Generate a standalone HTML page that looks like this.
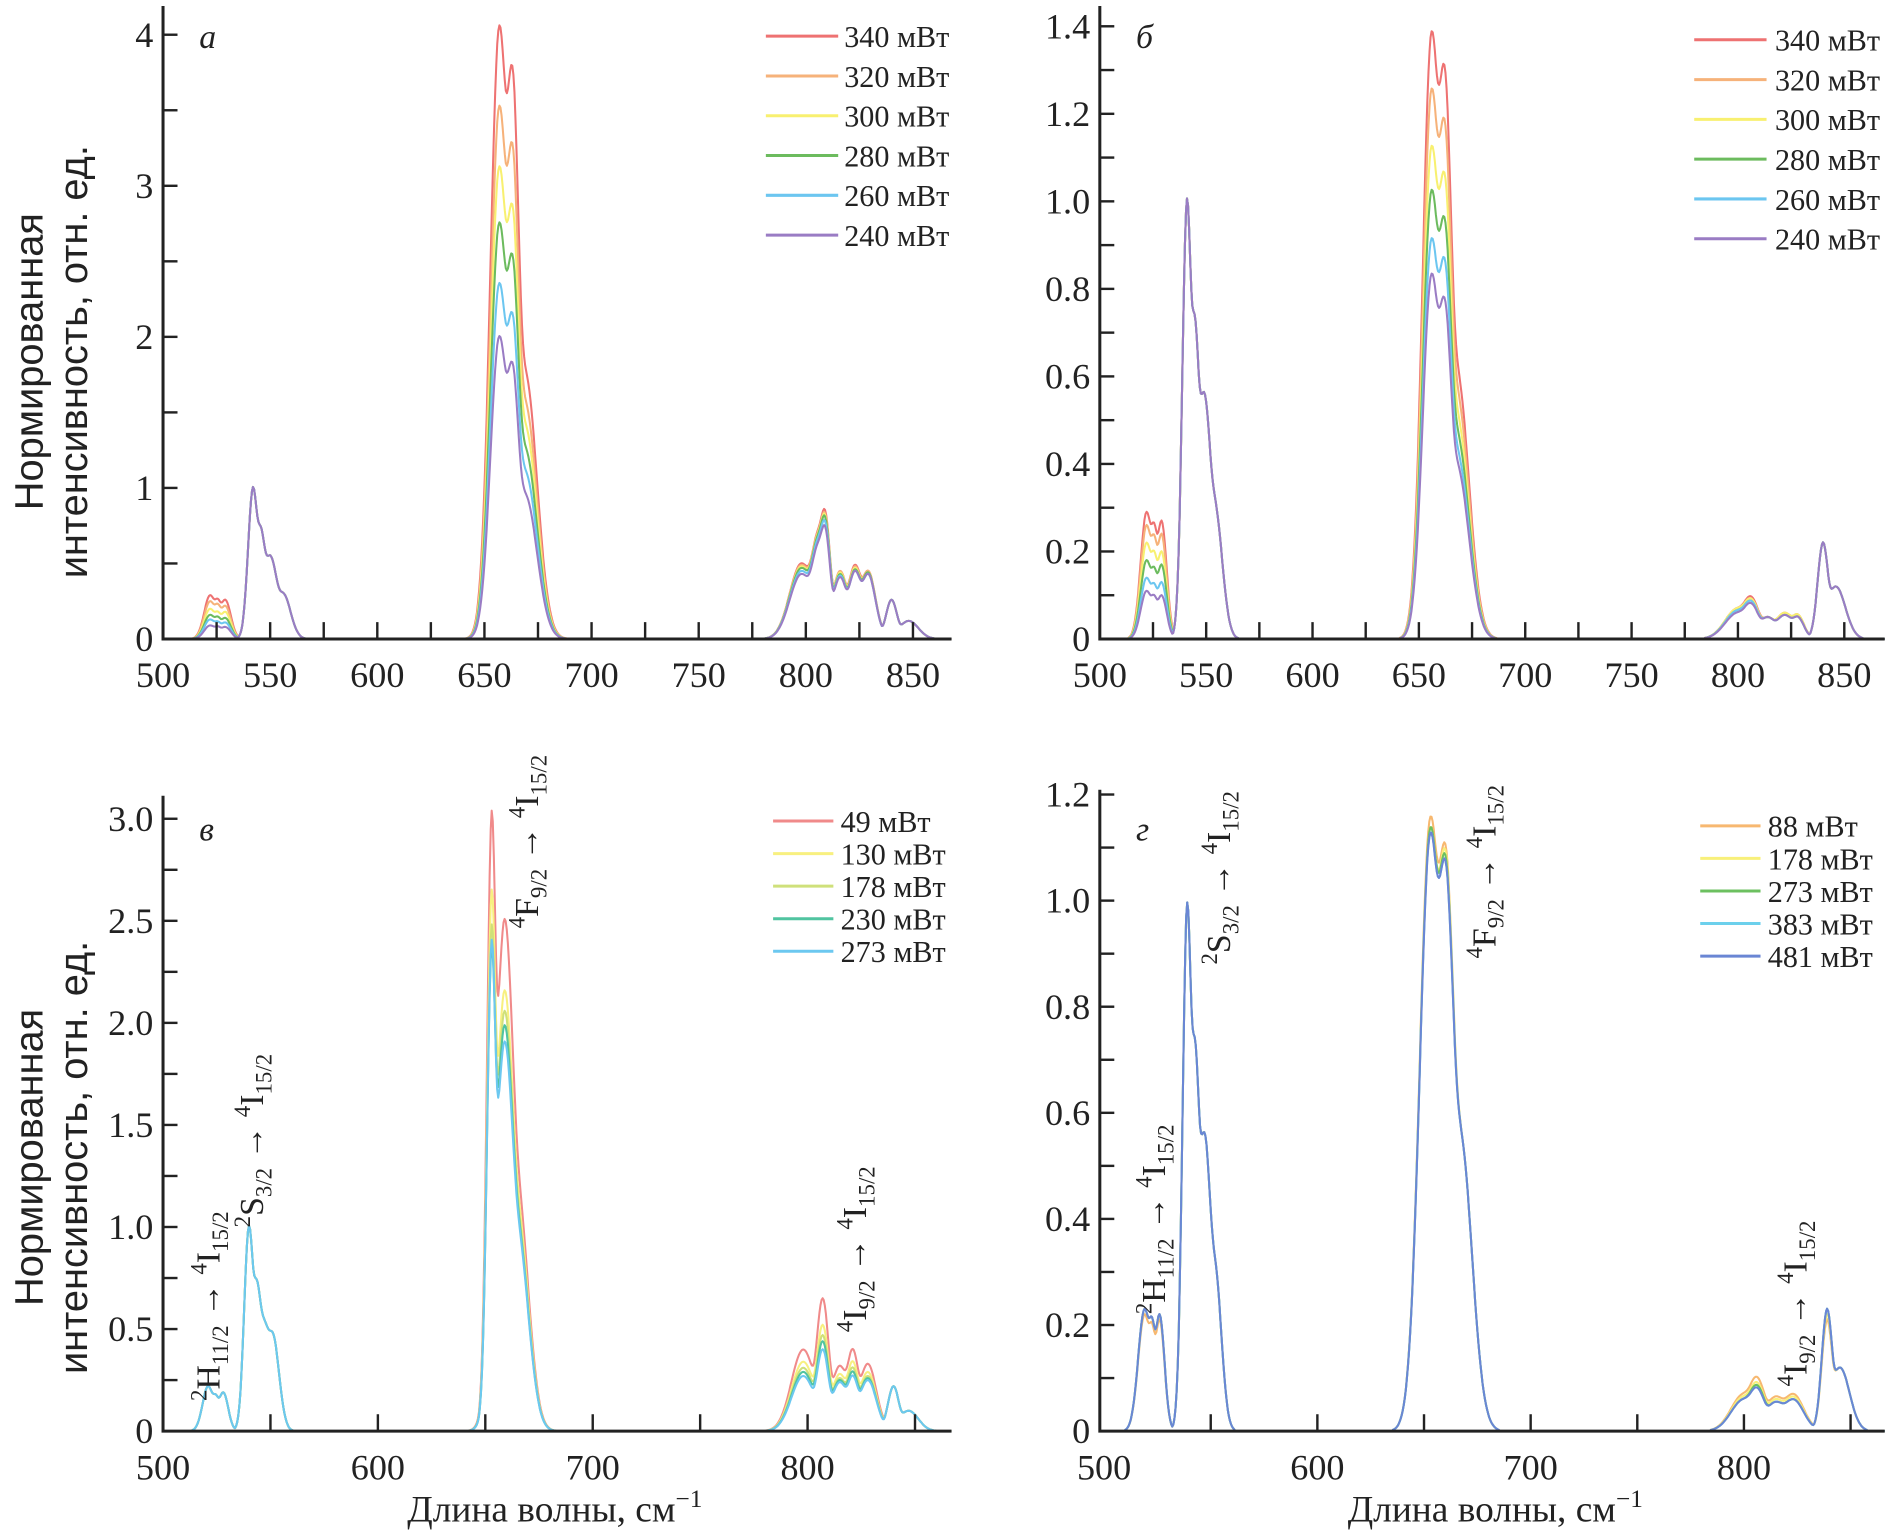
<!DOCTYPE html>
<html><head><meta charset="utf-8"><style>
html,body{margin:0;padding:0;background:#fff;}
svg{display:block;font-family:"Liberation Serif",serif;}
</style></head><body>
<svg id="fig" width="1891" height="1536" viewBox="0 0 1568 1274" xmlns="http://www.w3.org/2000/svg"></svg>
<script>
// ---------- DATA ----------
const centersA = [522,529,542,550,556,657,663,669,798,806,809,816,823,829,840,848,525.5,545.5];
const sigmasA  = [2.8,2.6,2.3,3.5,3.5,4.2,3.5,5.5,5.5,4.0,2.5,3.5,3.5,3.5,2.6,4.5,2.0,2.5];
const labelsA = ["340 мВт","320 мВт","300 мВт","280 мВт","260 мВт","240 мВт"];
const colorsA = ["#ee7272","#f6b27a","#f8f070","#6cbb5e","#6cc6f0","#9a7cc4"];
const ampsA = [
 [0.29,0.26,1.0,0.55,0.3,4.05,3.70,1.75,0.50,0.70,0.78,0.45,0.49,0.45,0.26,0.12,0.25,0.72],
 [0.25,0.22,1.0,0.55,0.3,3.52,3.20,1.55,0.49,0.69,0.76,0.45,0.48,0.45,0.26,0.12,0.22,0.72],
 [0.20,0.18,1.0,0.55,0.3,3.12,2.80,1.40,0.48,0.68,0.75,0.44,0.47,0.44,0.26,0.12,0.17,0.72],
 [0.16,0.14,1.0,0.55,0.3,2.75,2.48,1.25,0.47,0.67,0.74,0.43,0.46,0.44,0.26,0.12,0.14,0.72],
 [0.13,0.11,1.0,0.55,0.3,2.35,2.10,1.10,0.45,0.65,0.71,0.42,0.45,0.43,0.26,0.12,0.11,0.72],
 [0.09,0.08,1.0,0.55,0.3,2.00,1.78,0.95,0.43,0.62,0.68,0.41,0.45,0.43,0.26,0.12,0.08,0.72]
];
const centersB = [522,529,541,549,554,656,662,668,800,806,814,822,828,840,846,525.5,544.5];
const sigmasB  = [2.8,2.4,2.2,3.5,3.5,4.2,3.8,5.5,6.0,4.0,4.0,4.5,3.0,2.5,4.5,2.0,2.5];
const labelsB = labelsA;
const colorsB = colorsA;
const ampsB = [
 [0.29,0.27,1.0,0.56,0.3,1.38,1.28,0.60,0.07,0.095,0.05,0.06,0.055,0.22,0.12,0.25,0.72],
 [0.26,0.24,1.0,0.56,0.3,1.25,1.16,0.55,0.07,0.09,0.05,0.06,0.055,0.22,0.12,0.225,0.72],
 [0.22,0.20,1.0,0.56,0.3,1.12,1.04,0.50,0.07,0.09,0.05,0.06,0.055,0.22,0.12,0.19,0.72],
 [0.18,0.17,1.0,0.56,0.3,1.02,0.94,0.46,0.065,0.085,0.05,0.055,0.05,0.22,0.12,0.155,0.72],
 [0.14,0.13,1.0,0.56,0.3,0.91,0.85,0.42,0.065,0.085,0.05,0.055,0.05,0.22,0.12,0.12,0.72],
 [0.11,0.10,1.0,0.56,0.3,0.83,0.76,0.39,0.06,0.08,0.05,0.055,0.05,0.22,0.12,0.095,0.72]
];
const centersC = [521,528,540,547,551,653,659,665,798,807,815,821,828,840,847,524.5,543.5];
const sigmasC  = [2.6,2.3,2.2,3.0,3.0,2.2,4.5,5.0,5.5,3.0,4.0,3.0,4.0,2.6,4.5,2.0,2.5];
const labelsC = ["49 мВт","130 мВт","178 мВт","230 мВт","273 мВт"];
const colorsC = ["#f08a8a","#f8f080","#cfe07a","#50c4a0","#6cc8f0"];
const ampsC = [
 [0.22,0.19,1.0,0.52,0.47,3.00,2.50,1.15,0.40,0.65,0.32,0.40,0.33,0.22,0.10,0.17,0.72],
 [0.22,0.19,1.0,0.52,0.47,2.62,2.15,1.05,0.34,0.52,0.28,0.34,0.29,0.22,0.10,0.17,0.72],
 [0.22,0.19,1.0,0.52,0.47,2.45,2.05,1.00,0.31,0.47,0.26,0.31,0.27,0.22,0.10,0.17,0.72],
 [0.22,0.19,1.0,0.52,0.47,2.35,1.98,0.97,0.29,0.44,0.25,0.29,0.26,0.22,0.10,0.17,0.72],
 [0.22,0.19,1.0,0.52,0.47,2.38,1.90,0.95,0.27,0.40,0.24,0.27,0.25,0.22,0.10,0.17,0.72]
];
const centersD = [519,526,539,547,552,653,660,667,800,806,815,823,839,845,522.5,542.5];
const sigmasD  = [3.0,2.3,2.2,3.5,3.0,5.0,4.5,5.5,6.0,4.0,5.0,5.0,2.5,4.5,2.0,2.5];
const labelsD = ["88 мВт","178 мВт","273 мВт","383 мВт","481 мВт"];
const colorsD = ["#f7b870","#f8f07a","#6cc060","#6cd0ec","#6a86d4"];
const ampsD = [
 [0.22,0.21,0.99,0.56,0.3,1.15,1.08,0.55,0.07,0.10,0.065,0.07,0.21,0.12,0.19,0.72],
 [0.23,0.22,0.99,0.56,0.3,1.13,1.07,0.55,0.065,0.09,0.06,0.065,0.22,0.12,0.2,0.72],
 [0.23,0.22,0.99,0.56,0.3,1.13,1.06,0.55,0.06,0.085,0.055,0.06,0.23,0.12,0.2,0.72],
 [0.23,0.22,0.99,0.56,0.3,1.12,1.05,0.55,0.06,0.08,0.055,0.06,0.23,0.12,0.2,0.72],
 [0.23,0.22,0.99,0.56,0.3,1.12,1.05,0.55,0.06,0.08,0.055,0.06,0.23,0.12,0.2,0.72]
];
const ticksXTop = [500,550,600,650,700,750,800,850];
const ticksXBot = [500,600,700,800];
const ticksYA = ["0","1","2","3","4"];
const ticksYB = ["0","0.2","0.4","0.6","0.8","1.0","1.2","1.4"];
const ticksYC = ["0","0.5","1.0","1.5","2.0","2.5","3.0"];
const ticksYD = ["0","0.2","0.4","0.6","0.8","1.0","1.2"];

// ---------- DRAW ----------
const NS="http://www.w3.org/2000/svg";
const svg=document.getElementById('fig');
function mk(tag,attrs,parent){const e=document.createElementNS(NS,tag);for(const k in attrs)e.setAttribute(k,attrs[k]);(parent||svg).appendChild(e);return e;}

const panels=[
 {id:'a',letter:'а',x0:135,x1:789,y0:530,yTop:5,xmin:500,xmax:868,ymax:4.0,yPix:125.3,xt:ticksXTop,xMinor:25,yt:ticksYA,yMinor:0.5,cen:centersA,sig:sigmasA,amps:ampsA,labels:labelsA,colors:colorsA,leg:{x:635,w:60,tx:700,y:30,dy:33}},
 {id:'b',letter:'б',x0:912,x1:1563,y0:530,yTop:5,xmin:500,xmax:869,ymax:1.4,yPix:363,xt:ticksXTop,xMinor:25,yt:ticksYB,yMinor:0.1,cen:centersB,sig:sigmasB,amps:ampsB,labels:labelsB,colors:colorsB,leg:{x:1405,w:60,tx:1472,y:33,dy:33}},
 {id:'c',letter:'в',x0:135,x1:789,y0:1187,yTop:660,xmin:500,xmax:867,ymax:3.0,yPix:169.3,xt:ticksXBot,xMinor:50,yt:ticksYC,yMinor:0.25,cen:centersC,sig:sigmasC,amps:ampsC,labels:labelsC,colors:colorsC,leg:{x:641,w:50,tx:697,y:681,dy:27}},
 {id:'d',letter:'г',x0:912,x1:1563,y0:1187,yTop:655,xmin:498,xmax:866,ymax:1.2,yPix:440,xt:ticksXBot,xMinor:50,yt:ticksYD,yMinor:0.1,cen:centersD,sig:sigmasD,amps:ampsD,labels:labelsD,colors:colorsD,leg:{x:1410,w:50,tx:1466,y:685,dy:27}}
];
const P=3;
panels.forEach(p=>{
 const g=mk('g',{});
 
 
 const sx=(p.x1-p.x0)/(p.xmax-p.xmin);
 const X=v=>p.x0+(v-p.xmin)*sx;
 const Y=v=>p.y0-v*p.yPix;
 for(let s=0;s<p.amps.length;s++){
  const a=p.amps[s];
  let d='';
  for(let x=p.xmin;x<=p.xmax;x+=0.5){
   let acc=0;
   for(let k=0;k<p.cen.length;k++){const z=(x-p.cen[k])/p.sig[k];const gv=a[k]*Math.exp(-0.5*z*z);acc+=Math.pow(gv,P);}
   let v=Math.pow(acc,1/P);
   if(v<0.002)v=0;
   d+=(d?'L':'M')+X(x).toFixed(1)+' '+Y(v).toFixed(1);
  }
  const path=mk('path',{d:d,fill:'none',stroke:p.colors[s],'stroke-width':1.7,'stroke-linejoin':'round'},g);
  
  
 }
 const ax=mk('path',{d:`M${p.x0} ${p.yTop}V${p.y0}H${p.x1}`,fill:'none',stroke:'#222','stroke-width':2.5},g);
 
 
 for(let v=p.xmin+((p.xMinor-(p.xmin%p.xMinor))%p.xMinor);v<=p.xmax;v+=p.xMinor){
  if(v===500) continue;
  mk('line',{x1:X(v),x2:X(v),y1:p.y0,y2:p.y0-14,stroke:'#222','stroke-width':2},g);
 }
 p.xt.forEach(v=>{
  const t=mk('text',{x:X(v),y:p.y0+40,'font-size':30,'text-anchor':'middle',fill:'#222'},g);
  t.textContent=v;
  
  
 });
 for(let v=p.yMinor;v<=p.ymax+1e-6;v+=p.yMinor){
  mk('line',{x1:p.x0,x2:p.x0+12,y1:Y(v),y2:Y(v),stroke:'#222','stroke-width':2},g);
 }
 p.yt.forEach(lbl=>{
  const v=parseFloat(lbl);
  const t=mk('text',{x:p.x0-8,y:Y(v)+10,'font-size':30,'text-anchor':'end',fill:'#222'},g);
  t.textContent=lbl;
  
  
 });
 const L=mk('text',{x:p.x0+30,y:p.id==='a'||p.id==='b'?40:697,'font-size':28,'font-style':'italic',fill:'#222'},g);
 L.textContent=p.letter;
 
 
 p.labels.forEach((lb,i)=>{
  const yy=p.leg.y+i*p.leg.dy;
  const ln=mk('line',{x1:p.leg.x,x2:p.leg.x+p.leg.w,y1:yy,y2:yy,stroke:p.colors[i],'stroke-width':2.5},g);
  
  
  const t=mk('text',{x:p.leg.tx,y:yy+9,'font-size':25,fill:'#222'},g);
  t.textContent=lb;
  
  
 });
});

[300,960].forEach(cy=>{
 const t1=mk('text',{x:0,y:0,'font-size':33,'text-anchor':'middle',fill:'#222','font-family':'Liberation Sans, sans-serif',transform:`translate(35 ${cy}) rotate(-90)`});
 t1.textContent='Нормированная';
 
 
 const t2=mk('text',{x:0,y:0,'font-size':33,'text-anchor':'middle',fill:'#222','font-family':'Liberation Sans, sans-serif',transform:`translate(72 ${cy}) rotate(-90)`});
 t2.textContent='интенсивность, отн. ед.';
 
 
});
[460,1240].forEach(cx=>{
 const t=mk('text',{x:cx,y:1262,'font-size':31,'text-anchor':'middle',fill:'#222'});
 t.innerHTML='Длина волны, см<tspan dy="-12" font-size="21">−1</tspan>';
 
 
});
const ann=[
 [182,1162,'2','H','11/2'],[218,1018,'2','S','3/2'],[446,770,'4','F','9/2'],[718,1105,'4','I','9/2'],
 [966,1090,'2','H','11/2'],[1020,800,'2','S','3/2'],[1240,795,'4','F','9/2'],[1498,1150,'4','I','9/2']
];
ann.forEach(([x,y,sup,el,sub])=>{
 const t=mk('text',{x:0,y:0,'font-size':28,fill:'#222',transform:`translate(${x} ${y}) rotate(-90)`});
 t.innerHTML=`<tspan dy="-11" font-size="19">${sup}</tspan><tspan dy="11">${el}</tspan><tspan dy="7" font-size="19">${sub}</tspan><tspan dy="-7"> → </tspan><tspan dy="-11" font-size="19">4</tspan><tspan dy="11">I</tspan><tspan dy="7" font-size="19">15/2</tspan>`;
 
 
});
</script>
</body></html>
